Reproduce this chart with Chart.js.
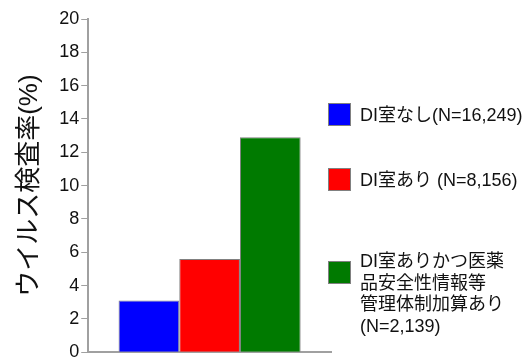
<!DOCTYPE html>
<html>
<head>
<meta charset="utf-8">
<script src="https://cdn.jsdelivr.net/npm/chart.js@4"></script>
<style>
  html, body { margin: 0; padding: 0; background: #fff; }
  #wrap { position: relative; width: 528px; height: 357px; overflow: hidden; }
  #legend { position: absolute; left: 0; top: 0; font-family: "Liberation Sans", "Noto Sans CJK JP", sans-serif; font-size: 18px; color: #111; }
  .box { position: absolute; left: 328px; width: 23px; height: 23px; border: 1px solid #808080; box-sizing: border-box; }
  .txt { position: absolute; left: 360px; line-height: 21.5px; white-space: nowrap; }
</style>
</head>
<body>
<div id="wrap">
  <canvas id="chart" width="528" height="365"></canvas>
  <div id="legend"></div>
</div>
<script>
const categories = [''];
const seriesNames = [
  ['DI室なし(N=16,249)'],
  ['DI室あり (N=8,156)'],
  ['DI室ありかつ医薬', '品安全性情報等', '管理体制加算あり', '(N=2,139)']
];
const seriesValues = [[3.1], [5.6], [12.9]];
const seriesColors = ['#0000ff', '#ff0000', '#007a00'];
const yTicks = [0, 2, 4, 6, 8, 10, 12, 14, 16, 18, 20];
const yTitle = 'ウイルス検査率(%)';

const font = '"Liberation Sans", "Noto Sans CJK JP", sans-serif';

new Chart(document.getElementById('chart'), {
  type: 'bar',
  data: {
    labels: categories,
    datasets: seriesNames.map((name, i) => ({
      label: name.join(''),
      data: seriesValues[i],
      backgroundColor: seriesColors[i],
      borderColor: '#808080',
      borderWidth: 1,
      categoryPercentage: 0.75,
      barPercentage: 1
    }))
  },
  options: {
    responsive: false,
    animation: false,
    layout: { padding: { top: 19, right: 197, bottom: 0, left: 14 } },
    plugins: { legend: { display: false }, tooltip: { enabled: false } },
    scales: {
      x: {
        ticks: { display: false },
        grid: { display: false },
        border: { color: '#a0a0a0', width: 2 }
      },
      y: {
        min: 0,
        max: 20,
        afterBuildTicks: axis => { axis.ticks = yTicks.map(v => ({ value: v })); },
        ticks: { color: '#111', padding: 2, font: { family: font, size: 18 } },
        grid: { drawOnChartArea: false, drawTicks: true, tickLength: 7, color: '#a0a0a0' },
        border: { color: '#a0a0a0', width: 2 },
        title: { display: true, text: yTitle, color: '#111', padding: { top: 0, bottom: 12 },
                 font: { family: font, size: 26 } }
      }
    }
  }
});

// legend on the right, built from the series arrays
const boxTops = [103, 168, 261];
const textTops = [105, 170, 251];
const legend = document.getElementById('legend');
seriesNames.forEach((lines, i) => {
  const box = document.createElement('div');
  box.className = 'box';
  box.style.background = seriesColors[i];
  box.style.top = boxTops[i] + 'px';
  const txt = document.createElement('div');
  txt.className = 'txt';
  txt.style.top = textTops[i] + 'px';
  txt.innerHTML = lines.join('<br>');
  legend.appendChild(box);
  legend.appendChild(txt);
});
</script>
</body>
</html>
